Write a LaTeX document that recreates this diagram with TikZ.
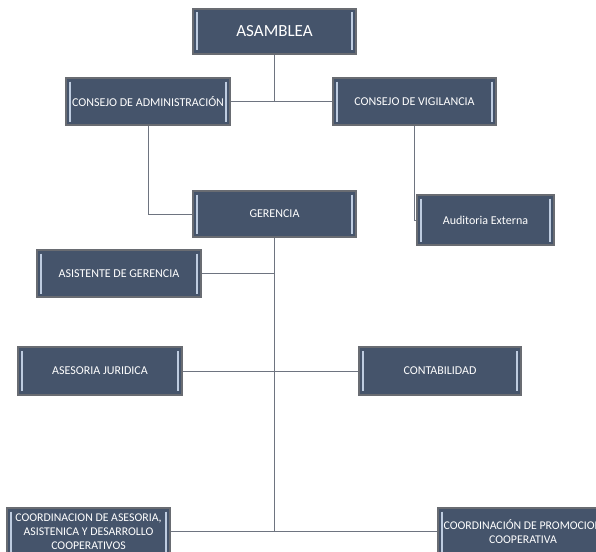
\documentclass[tikz,border=0pt]{standalone}
\usepackage{fontspec}
\setmainfont{Carlito}
\usepackage{tikz}
\usetikzlibrary{positioning}

\definecolor{pizarra}{RGB}{69,84,107}
\definecolor{borde}{RGB}{105,108,114}
\definecolor{barra}{RGB}{190,204,224}
\definecolor{linea}{RGB}{110,116,128}

\tikzset{
  cargo/.style={draw=borde, line width=1.2pt, fill=pizarra, text=white,
    minimum width=163pt, minimum height=46pt, inner sep=1pt, align=center,
    font=\fontsize{12}{13}\selectfont,
    path picture={
      \draw[barra, line width=1.8pt]
        ([xshift=4pt,yshift=-3.5pt]path picture bounding box.north west) --
        ([xshift=4pt,yshift=3.5pt]path picture bounding box.south west);
      \draw[barra, line width=1.8pt]
        ([xshift=-4pt,yshift=-3.5pt]path picture bounding box.north east) --
        ([xshift=-4pt,yshift=3.5pt]path picture bounding box.south east);
    }},
  enlace/.style={draw=linea, line width=1pt}
}

\begin{document}
\begin{tikzpicture}[x=1pt,y=-1pt,every node/.style={on grid}]
  \useasboundingbox (0,0) rectangle (596,551);
  \clip (0,0) rectangle (596,551);
  \node[cargo, font=\fontsize{17}{19}\selectfont, minimum height=45pt] (asam) at (274.5,31.5) {ASAMBLEA};
  \node[cargo, minimum width=164pt, minimum height=47pt, below left=70pt and 126.5pt of asam] (adm) {CONSEJO DE ADMINISTRACIÓN};
  \node[cargo, minimum height=47pt, below right=70pt and 140pt of asam] (vig) {CONSEJO DE VIGILANCIA};
  \node[cargo, below=182.5pt of asam] (ger) {GERENCIA};
  \node[cargo, minimum width=137pt, minimum height=50pt, below right=6pt and 211pt of ger] (aud) {Auditoria Externa};
  \node[cargo, minimum width=164pt, minimum height=47pt, below left=59.5pt and 155.5pt of ger] (asis) {ASISTENTE DE GERENCIA};
  \node[cargo, minimum width=164pt, minimum height=47pt, below left=157pt and 174.5pt of ger] (ase) {ASESORIA JURIDICA};
  \node[cargo, minimum width=162pt, minimum height=47pt, below right=157pt and 165.5pt of ger] (cont) {CONTABILIDAD};
  \node[cargo, font=\fontsize{11.8}{14}\selectfont, minimum height=47pt, below left=317.5pt and 186pt of ger] (coorA) {COORDINACION DE ASESORIA,\\ASISTENICA Y DESARROLLO\\COOPERATIVOS};
  \node[cargo, font=\fontsize{11.8}{14}\selectfont, minimum width=170pt, minimum height=47pt, below right=317.5pt and 248.5pt of ger] (coorP) {COORDINACIÓN DE PROMOCION\\COOPERATIVA};
  \draw[enlace] (asam) -- (asam |- adm);
  \draw[enlace] (adm) -- (vig);
  \draw[enlace] (adm) |- (ger);
  \draw[enlace] (vig) |- (aud);
  \draw[enlace] (ger) -- (ger |- coorA);
  \draw[enlace] (asis) -- (asis -| ger);
  \draw[enlace] (ase) -- (cont);
  \draw[enlace] (coorA) -- (coorP);
  % cajas encima de los enlaces
  \foreach \n in {asam,adm,vig,ger,aud,asis,ase,cont,coorA,coorP}
    \draw[borde, line width=1.2pt] (\n.north west) rectangle (\n.south east);
\end{tikzpicture}
\end{document}
